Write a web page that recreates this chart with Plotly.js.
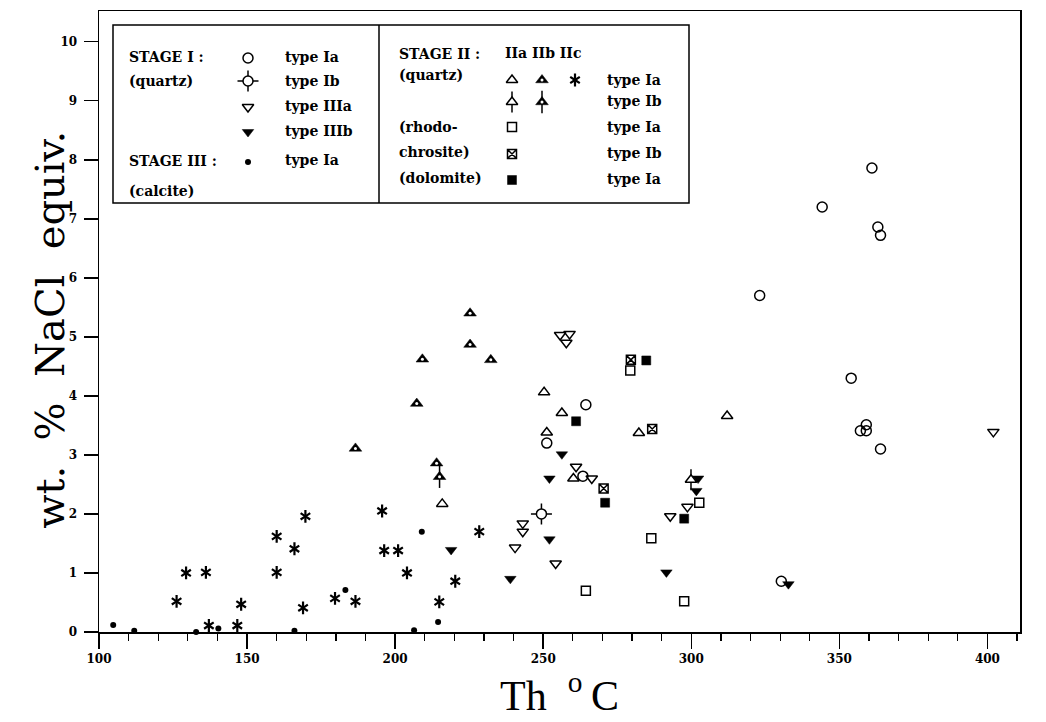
<!DOCTYPE html>
<html><head><meta charset="utf-8">
<script src="https://cdn.plot.ly/plotly-3.0.1.min.js"></script>
<style>html,body{margin:0;padding:0;background:#fff}#chart{width:1046px;height:722px}</style>
</head><body><div id="chart"></div>
<script>
// ---- data: Th (°C) and salinity (wt.% NaCl equiv.) ----
const s1IaT = [264.4, 251.2, 263.4, 361, 344.2, 363, 363.9, 323.1, 354, 357.1, 359.1, 359.1, 363.9, 330.4];
const s1IaW = [3.85, 3.20, 2.64, 7.86, 7.20, 6.86, 6.72, 5.70, 4.30, 3.41, 3.51, 3.41, 3.10, 0.86];
const s1IbT = [249.4];
const s1IbW = [2.00];
const s1IIIaT = [255.7, 258.9, 257.8, 261.1, 266.4, 243.1, 243.1, 240.5, 254.2, 298.7, 292.9, 402];
const s1IIIaW = [5.03, 5.05, 4.90, 2.80, 2.60, 1.84, 1.70, 1.43, 1.16, 2.12, 1.96, 3.39];
const s1IIIbT = [256.3, 252.1, 252.1, 238.9, 218.9, 302.3, 301.7, 291.6, 332.8];
const s1IIIbW = [3.01, 2.60, 1.57, 0.90, 1.39, 2.60, 2.39, 1.01, 0.81];
const s3IaT = [104.8, 111.9, 132.8, 140.3, 166, 183.2, 209, 214.5, 206.4];
const s3IaW = [0.12, 0.02, 0.00, 0.06, 0.02, 0.71, 1.70, 0.17, 0.03];
const s2aIaT = [250.3, 256.3, 251.2, 260.2, 282.3, 312.1, 215.9];
const s2aIaW = [4.06, 3.71, 3.38, 2.60, 3.37, 3.66, 2.17];
const s2aIbT = [299.9];
const s2aIbW = [2.58];
const s2bIaT = [186.6, 207.3, 209.2, 225.3, 225.3, 232.3, 214];
const s2bIaW = [3.11, 3.87, 4.62, 4.87, 5.40, 4.61, 2.86];
const s2bIbT = [215];
const s2bIbW = [2.63];
const s2cIaT = [126.2, 129.4, 136.1, 137.1, 146.7, 148, 160, 160, 166, 168.9, 169.7, 179.7, 186.6, 195.6, 196.3, 201, 204, 214.9, 220.3, 228.4];
const s2cIaW = [0.52, 1.00, 1.01, 0.11, 0.11, 0.47, 1.62, 1.01, 1.41, 0.41, 1.96, 0.57, 0.52, 2.05, 1.38, 1.38, 1.00, 0.51, 0.86, 1.70];
const rhIaT = [279.4, 264.4, 302.7, 286.5, 297.6];
const rhIaW = [4.43, 0.70, 2.19, 1.59, 0.52];
const rhIbT = [279.6, 286.8, 270.4];
const rhIbW = [4.61, 3.44, 2.43];
const doIaT = [284.8, 261.1, 270.9, 297.6];
const doIaW = [4.60, 3.57, 2.19, 1.92];
const xTicks = [100, 150, 200, 250, 300, 350, 400];
const yTicks = [0, 1, 2, 3, 4, 5, 6, 7, 8, 9, 10];

// ---- marker styles (layers drawn in order) ----
const K = 'black';
const ST = {
  circleOpen: [{symbol:'circle-open', size:10, color:K, line:{width:1.5, color:K}}],
  circleIb: [{symbol:'cross-thin-open', size:15, color:K, line:{width:1.5, color:K}},
             {symbol:'circle', size:10, color:'white', line:{width:1.5, color:K}}],
  triDownOpen: [{symbol:'triangle-down-open', size:10, color:K, line:{width:1.5, color:K}}],
  triDown: [{symbol:'triangle-down', size:10, color:K, line:{width:0.5, color:K}}],
  dot: [{symbol:'circle', size:6, color:K, line:{width:0}}],
  triUpOpen: [{symbol:'triangle-up-open', size:10, color:K, line:{width:1.5, color:K}}],
  triUpOpenIb: [{symbol:'line-ns-open', size:15, color:K, line:{width:1.5, color:K}},
                {symbol:'triangle-up', size:10, color:'white', line:{width:1.5, color:K}}],
  triIIb: [{symbol:'triangle-up', size:11, color:K, line:{width:0.5, color:K}},
           {symbol:'circle', size:3, color:'white', line:{width:0}}],
  triIIbIb: [{symbol:'line-ns-open', size:16, color:K, line:{width:1.5, color:K}},
             {symbol:'triangle-up', size:11, color:K, line:{width:0.5, color:K}},
             {symbol:'circle', size:3, color:'white', line:{width:0}}],
  star: [{symbol:'y-up-open', size:8, color:K, line:{width:2.2, color:K}},
         {symbol:'y-down-open', size:8, color:K, line:{width:2.2, color:K}}],
  squareOpen: [{symbol:'square-open', size:9, color:K, line:{width:1.5, color:K}}],
  squareX: [{symbol:'square-x-open', size:9, color:K, line:{width:1.5, color:K}}],
  square: [{symbol:'square', size:9, color:K, line:{width:0.5, color:K}}]
};

const traces = [];
function add(xs, ys, style, xa, ya) {
  ST[style].forEach(m => traces.push({
    type:'scatter', mode:'markers', x:xs, y:ys, xaxis:xa||'x', yaxis:ya||'y',
    marker:m, showlegend:false, hoverinfo:'skip', cliponaxis:false
  }));
}
add(s1IaT, s1IaW, 'circleOpen');
add(s1IbT, s1IbW, 'circleIb');
add(s1IIIaT, s1IIIaW, 'triDownOpen');
add(s1IIIbT, s1IIIbW, 'triDown');
add(s3IaT, s3IaW, 'dot');
add(s2aIaT, s2aIaW, 'triUpOpen');
add(s2aIbT, s2aIbW, 'triUpOpenIb');
add(s2bIaT, s2bIaW, 'triIIb');
add(s2bIbT, s2bIbW, 'triIIbIb');
add(s2cIaT, s2cIaW, 'star');
add(rhIaT, rhIaW, 'squareOpen');
add(rhIbT, rhIbW, 'squareX');
add(doIaT, doIaW, 'square');

// ---- key box (page-pixel coordinates through hidden axes x2/y2) ----
const keyL = [
  {s:'circleOpen', x:248, y:58}, {s:'circleIb', x:248, y:81}, {s:'triDownOpen', x:248, y:107},
  {s:'triDown', x:248, y:132}, {s:'dot', x:248, y:162},
  {s:'triUpOpen', x:512, y:80}, {s:'triIIb', x:542, y:80}, {s:'star', x:575, y:80},
  {s:'triUpOpenIb', x:512, y:102}, {s:'triIIbIb', x:542, y:102},
  {s:'squareOpen', x:512, y:127}, {s:'squareX', x:512, y:154}, {s:'square', x:512, y:180}
];
keyL.forEach(k => add([k.x], [k.y], k.s, 'x2', 'y2'));

const FF = 'DejaVu Serif';
const texts = [
  ['STAGE I :', 127, 57], ['(quartz)', 127, 81], ['STAGE III :', 127, 161], ['(calcite)', 127, 191],
  ['type Ia', 283, 57], ['type Ib', 283, 81], ['type IIIa', 283, 106], ['type IIIb', 283, 131], ['type Ia', 283, 160],
  ['STAGE II :', 397, 54], ['IIa IIb IIc', 503, 53], ['(quartz)', 397, 75],
  ['type Ia', 605, 80], ['type Ib', 605, 101],
  ['(rhodo-', 397, 127], ['chrosite)', 397, 152], ['(dolomite)', 397, 178],
  ['type Ia', 605, 127], ['type Ib', 605, 153], ['type Ia', 605, 179]
];
const annotations = texts.map(t => ({
  text:'<b>'+t[0]+'</b>', x:t[1], y:t[2], xref:'x2', yref:'y2', xanchor:'left', yanchor:'middle',
  showarrow:false, font:{family:FF, size:14, color:K}
}));
// y-axis title, placed as a rotated annotation (paper coordinates)
annotations.push({
  text:'wt.\u00A0 %\u00A0 NaCl\u00A0 equiv.', x:-0.054, y:0.487, xref:'paper', yref:'paper',
  xanchor:'center', yanchor:'middle', textangle:-90, showarrow:false,
  font:{family:FF, size:40, color:K}
});

const layout = {
  width:1046, height:722,
  margin:{l:99, r:26, t:11, b:90},
  paper_bgcolor:'white', plot_bgcolor:'white',
  showlegend:false,
  xaxis:{
    range:[100, 411], tickvals:xTicks, ticktext:xTicks.map(v => '<b>'+v+'</b>'),
    ticks:'outside', ticklen:15, tickwidth:1.5, tickcolor:K,
    minor:{tick0:100, dtick:10, ticks:'outside', ticklen:7, tickwidth:1.2, tickcolor:K},
    showline:true, linewidth:1.5, linecolor:K, mirror:true, showgrid:false, zeroline:false,
    tickfont:{family:FF, size:12, color:K},
    title:{text:'Th\u00A0\u00A0<sup>o</sup>\u2009C', font:{family:'Liberation Serif', size:42, color:K}, standoff:6}
  },
  yaxis:{
    range:[0, 10.52], tickvals:yTicks, ticktext:yTicks.map(v => '<b>'+v+'</b>'),
    ticks:'outside', ticklen:14, tickwidth:1.5, tickcolor:K,
    showline:true, linewidth:1.5, linecolor:K, mirror:true, showgrid:false, zeroline:false,
    tickfont:{family:FF, size:12, color:K}, ticklabelstandoff:4
  },
  xaxis2:{overlaying:'x', range:[99, 1020], visible:false, anchor:'y2'},
  yaxis2:{overlaying:'y', range:[632, 11], visible:false, anchor:'x2'},
  shapes:[
    {type:'rect', xref:'x2', yref:'y2', x0:113, x1:689, y0:25, y1:203, line:{color:K, width:1.5}, fillcolor:'white', layer:'below'},
    {type:'line', xref:'x2', yref:'y2', x0:379, x1:379, y0:25, y1:203, line:{color:K, width:1.5}}
  ],
  annotations:annotations
};
Plotly.newPlot('chart', traces, layout, {displayModeBar:false, staticPlot:true});
</script>
</body></html>
